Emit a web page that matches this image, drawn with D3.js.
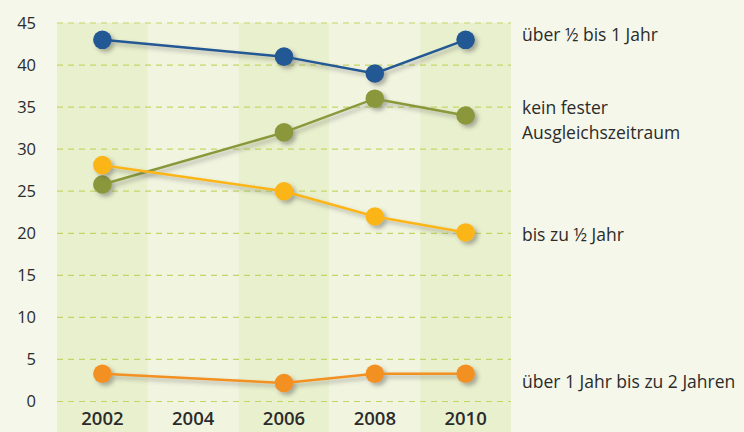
<!DOCTYPE html>
<html>
<head>
<meta charset="utf-8">
<title>Ausgleichszeitraum</title>
<style>
body { margin: 0; background: #f5f7ea; }
svg { display: block; font-family: "Open Sans", "Noto Sans", sans-serif; }
.tick text { fill: #2b2b2b; }
</style>
</head>
<body>
<div id="chart"></div>
<script src="https://d3js.org/d3.v7.min.js"></script>
<script>
var years = ["2002", "2004", "2006", "2008", "2010"];
var yTicks = [0, 5, 10, 15, 20, 25, 30, 35, 40, 45];

var seriesNames = ["über ½ bis 1 Jahr", "kein fester\nAusgleichszeitraum", "bis zu ½ Jahr", "über 1 Jahr bis zu 2 Jahren"];
var seriesColors = ["#245893", "#8a983b", "#fbb518", "#f39020"];
var seriesYears = ["2002", "2006", "2008", "2010"];
var ueberHalbBis1 = [43, 41, 39, 43];
var keinFester = [25.8, 32, 36, 34];
var bisHalb = [28.1, 25, 22, 20.1];
var ueber1Bis2 = [3.3, 2.2, 3.3, 3.3];
var seriesValues = [ueberHalbBis1, keinFester, bisHalb, ueber1Bis2];

var w = 744, h = 432;
var svg = d3.select("#chart").append("svg").attr("width", w).attr("height", h);

var defs = svg.append("defs");
var f = defs.append("filter").attr("id", "shadow")
    .attr("x", "-20%").attr("y", "-20%").attr("width", "140%").attr("height", "140%");
f.append("feDropShadow").attr("dx", 3).attr("dy", 3).attr("stdDeviation", 2)
    .attr("flood-color", "#555").attr("flood-opacity", 0.45);

var x = d3.scaleBand().domain(years).range([57, 511]).padding(0);
var y = d3.scaleLinear().domain([0, 45]).range([401.5, 23]);

// column bands
svg.append("g").selectAll("rect")
    .data(years)
    .enter().append("rect")
    .attr("x", function(d) { return x(d); })
    .attr("y", y(45))
    .attr("width", x.bandwidth())
    .attr("height", h - y(45))
    .attr("fill", function(d, i) { return i % 2 === 0 ? "#e9f0cd" : "#f1f5df"; });

// gridlines
svg.append("g").selectAll("line")
    .data(yTicks)
    .enter().append("line")
    .attr("x1", 57).attr("x2", 511)
    .attr("y1", function(d) { return y(d); })
    .attr("y2", function(d) { return y(d); })
    .attr("stroke", "#c3d665")
    .attr("stroke-width", 1.2)
    .attr("stroke-dasharray", "6,5");

// y axis
var yAxis = svg.append("g")
    .attr("transform", "translate(36,0)")
    .call(d3.axisLeft(y).tickValues(yTicks).tickSize(0).tickPadding(0));
yAxis.select(".domain").remove();
yAxis.selectAll("text").attr("font-size", 16.5).attr("font-family", "'Open Sans', sans-serif");

// x axis
var xAxis = svg.append("g")
    .attr("transform", "translate(0,409)")
    .call(d3.axisBottom(x).tickSize(0).tickPadding(3));
xAxis.select(".domain").remove();
xAxis.selectAll("text").attr("font-size", 18.5).attr("font-weight", 600)
    .attr("font-family", "'Open Sans', sans-serif");

var line = d3.line()
    .x(function(d, i) { return x(seriesYears[i]) + x.bandwidth() / 2; })
    .y(function(d) { return y(d); });

var series = svg.append("g").selectAll("g")
    .data(seriesValues)
    .enter().append("g")
    .attr("filter", "url(#shadow)");

series.append("path")
    .attr("d", function(d) { return line(d); })
    .attr("fill", "none")
    .attr("stroke", function(d, i) { return seriesColors[i]; })
    .attr("stroke-width", 2.5);

series.each(function(vals, si) {
    d3.select(this).selectAll("circle")
        .data(vals)
        .enter().append("circle")
        .attr("cx", function(d, i) { return x(seriesYears[i]) + x.bandwidth() / 2; })
        .attr("cy", function(d) { return y(d); })
        .attr("r", 9.3)
        .attr("fill", seriesColors[si]);
});

// labels on the right
var labelDy = [-5, 5, 2, 8];
var labels = svg.append("g").selectAll("text")
    .data(seriesNames)
    .enter().append("text")
    .attr("x", 522)
    .attr("y", function(d, i) {
        var v = seriesValues[i][seriesValues[i].length - 1];
        var n = d.split("\n").length;
        return y(v) + labelDy[i] - (n - 1) * 12.5;
    })
    .attr("font-size", 17.5)
    .attr("fill", "#2b2b2b");

labels.each(function(d) {
    var t = d3.select(this);
    d.split("\n").forEach(function(s, k) {
        t.append("tspan").attr("x", 522).attr("dy", k === 0 ? "0.35em" : 25).text(s);
    });
});
</script>
</body>
</html>
